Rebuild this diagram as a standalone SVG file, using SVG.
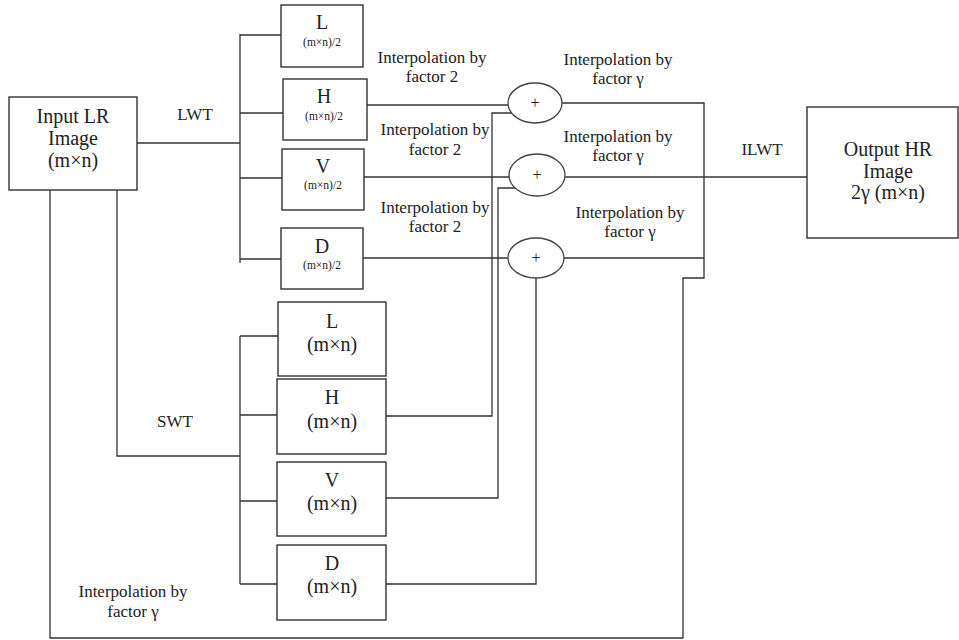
<svg xmlns="http://www.w3.org/2000/svg" width="959" height="640" viewBox="0 0 959 640">
  <style>
    .box { fill: #fff; stroke: #333; stroke-width: 1.4; }
    .sum { fill: #fff; stroke: #444; stroke-width: 1.3; }
    .wire { fill: none; stroke: #333; stroke-width: 1.3; }
    text { font-family: "Liberation Serif", "Times New Roman", serif; fill: #222; text-anchor: middle; }
    .big { font-size: 20px; }
    .mid { font-size: 17px; }
    .small { font-size: 11.5px; }
    .plus { font-size: 16px; }
  </style>
  <rect width="959" height="640" fill="#fff"/>

  <!-- connectors -->
  <g id="connectors" class="wire">
    <!-- input to LWT bus -->
    <path d="M137 143 H240"/>
    <path d="M240 34 V263"/>
    <path d="M240 35 H281 M240 113 H283 M240 178 H282 M240 259 H281"/>
    <!-- input to SWT bus -->
    <path d="M117 190 V456 H240"/>
    <path d="M240 336 V584"/>
    <path d="M240 336 H278 M240 415 H277 M240 501 H277 M240 584 H277"/>
    <!-- LWT bands to adders -->
    <path d="M367 105 H508"/>
    <path d="M364 177 H509"/>
    <path d="M363 258 H508"/>
    <!-- SWT bands to adders -->
    <path d="M386 416 H492 V113 H512"/>
    <path d="M386 498 H498 V188 H515"/>
    <path d="M386 584 H536 V278"/>
    <!-- adder outputs -->
    <path d="M562 103 H704 V278 H683 V638 H50 V190"/>
    <path d="M565 177 H807"/>
    <path d="M563 258 H704"/>
  </g>

  <!-- input image -->
  <g id="input">
    <rect class="box" x="9" y="97" width="128" height="93"/>
    <text class="big" x="73" y="123">Input LR</text>
    <text class="big" x="73" y="145">Image</text>
    <text class="big" x="73" y="167">(m×n)</text>
  </g>

  <!-- LWT sub-bands -->
  <g id="lwt-L">
    <rect class="box" x="281" y="5" width="82" height="62"/>
    <text class="big" x="322" y="29">L</text>
    <text class="small" x="322" y="46">(m×n)/2</text>
  </g>
  <g id="lwt-H">
    <rect class="box" x="283" y="79" width="84" height="61"/>
    <text class="big" x="324" y="103">H</text>
    <text class="small" x="324" y="120">(m×n)/2</text>
  </g>
  <g id="lwt-V">
    <rect class="box" x="282" y="149" width="82" height="61"/>
    <text class="big" x="323" y="173">V</text>
    <text class="small" x="323" y="189">(m×n)/2</text>
  </g>
  <g id="lwt-D">
    <rect class="box" x="281" y="228" width="82" height="61"/>
    <text class="big" x="322" y="253">D</text>
    <text class="small" x="322" y="269">(m×n)/2</text>
  </g>

  <!-- SWT sub-bands -->
  <g id="swt-L">
    <rect class="box" x="278" y="302" width="108" height="74"/>
    <text class="big" x="332" y="328">L</text>
    <text class="big" x="332" y="351">(m×n)</text>
  </g>
  <g id="swt-H">
    <rect class="box" x="277" y="379" width="109" height="75"/>
    <text class="big" x="332" y="404">H</text>
    <text class="big" x="332" y="428">(m×n)</text>
  </g>
  <g id="swt-V">
    <rect class="box" x="277" y="462" width="109" height="74"/>
    <text class="big" x="332" y="487">V</text>
    <text class="big" x="332" y="510">(m×n)</text>
  </g>
  <g id="swt-D">
    <rect class="box" x="277" y="545" width="109" height="75"/>
    <text class="big" x="332" y="570">D</text>
    <text class="big" x="332" y="593">(m×n)</text>
  </g>

  <!-- adders -->
  <g id="sum-1">
    <ellipse class="sum" cx="535" cy="103" rx="27" ry="20"/>
    <text class="plus" x="535" y="108">+</text>
  </g>
  <g id="sum-2">
    <ellipse class="sum" cx="537" cy="175" rx="28" ry="21"/>
    <text class="plus" x="537" y="180">+</text>
  </g>
  <g id="sum-3">
    <ellipse class="sum" cx="536" cy="258" rx="28" ry="20"/>
    <text class="plus" x="536" y="263">+</text>
  </g>

  <!-- output image -->
  <g id="output">
    <rect class="box" x="807" y="107" width="151" height="131"/>
    <text class="big" x="888" y="156">Output HR</text>
    <text class="big" x="888" y="178">Image</text>
    <text class="big" x="888" y="199">2γ (m×n)</text>
  </g>

  <!-- labels -->
  <g id="labels">
    <text class="mid" x="195" y="120">LWT</text>
    <text class="mid" x="175" y="427">SWT</text>
    <text class="mid" x="762" y="155">ILWT</text>

    <text class="mid" x="432" y="63">Interpolation by</text>
    <text class="mid" x="432" y="82">factor 2</text>
    <text class="mid" x="435" y="135">Interpolation by</text>
    <text class="mid" x="435" y="155">factor 2</text>
    <text class="mid" x="435" y="213">Interpolation by</text>
    <text class="mid" x="435" y="232">factor 2</text>

    <text class="mid" x="618" y="65">Interpolation by</text>
    <text class="mid" x="618" y="84">factor γ</text>
    <text class="mid" x="618" y="142">Interpolation by</text>
    <text class="mid" x="618" y="161">factor γ</text>
    <text class="mid" x="630" y="218">Interpolation by</text>
    <text class="mid" x="630" y="237">factor γ</text>

    <text class="mid" x="133" y="597">Interpolation by</text>
    <text class="mid" x="133" y="617">factor γ</text>
  </g>
</svg>
